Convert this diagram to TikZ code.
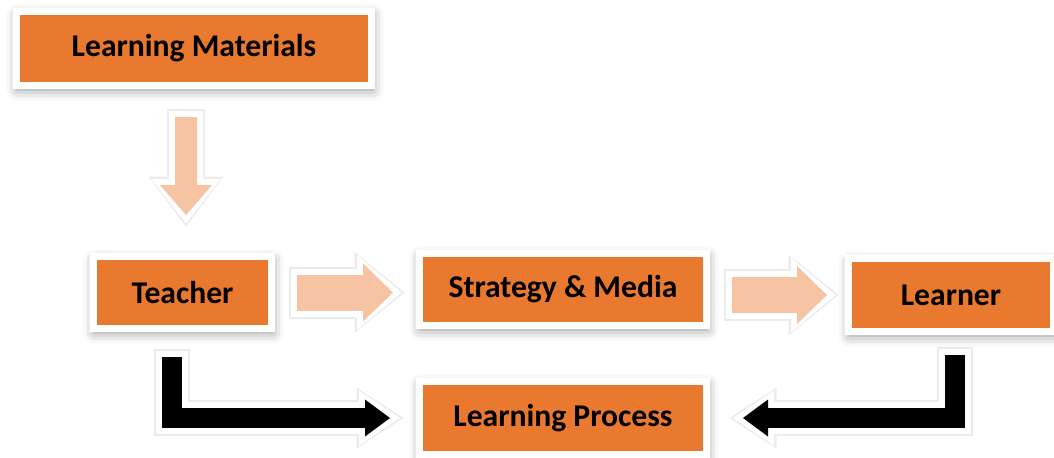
\documentclass[tikz,border=0pt]{standalone}
\usepackage{fontspec}
\setmainfont{Carlito}
\usetikzlibrary{positioning}
\usetikzlibrary{arrows.meta, shadows.blur}
\definecolor{boxorange}{RGB}{232,121,47}
\definecolor{arrowpeach}{RGB}{246,196,163}

\begin{document}
\begin{tikzpicture}[ orangebox/.style={rectangle, draw=white, fill=boxorange,
      line width=0.14cm, outer sep=0pt, minimum height=1.44cm,
      font=\fontsize{18}{21}\selectfont\bfseries,
      path picture={\draw[boxorange!80!black, line width=0.07cm]
        (path picture bounding box.south west) rectangle (path picture bounding box.north east);
        \draw[boxorange!60!white, line width=0.1cm]
        (path picture bounding box.north west) -- (path picture bounding box.north east);},
      blur shadow={shadow xshift=0.02cm, shadow yshift=-0.08cm,
        shadow blur radius=0.22cm, shadow opacity=45}},
    peacharrow/.style={draw=arrowpeach, line width=0.72cm,
      -{Triangle[length=0.6cm, width=1.16cm, line width=0pt]},
      preaction={draw=black!8, line width=1.04cm, shorten <=-0.16cm, shorten >=-0.23cm,
        -{Triangle[length=1.0cm, width=1.62cm, line width=0pt]}},
      preaction={draw=white, line width=0.96cm, shorten <=-0.12cm, shorten >=-0.17cm,
        -{Triangle[length=0.89cm, width=1.5cm, line width=0pt]}}},
    blackarrow/.style={draw=black, line width=0.4cm, line join=miter,
      -{Triangle[length=0.5cm, width=0.74cm, line width=0pt]},
      preaction={draw=black!8, line width=0.72cm, shorten <=-0.16cm, shorten >=-0.27cm,
        -{Triangle[length=0.94cm, width=1.22cm, line width=0pt]}},
      preaction={draw=white, line width=0.64cm, shorten <=-0.12cm, shorten >=-0.2cm,
        -{Triangle[length=0.82cm, width=1.1cm, line width=0pt]}}}]
    \useasboundingbox (0,0) rectangle (21.08,-9.14);
    \node[orangebox, minimum width=7.1cm, minimum height=1.48cm] (materials) at (3.88,-0.97) {Learning Materials};
    \node[orangebox, minimum width=3.56cm] (teacher) [below=3.42cm of materials, xshift=-0.23cm] {Teacher};
    \node[orangebox, minimum width=5.74cm] (strategy) [right=2.96cm of teacher, yshift=0.06cm] {Strategy \& Media};
    \node[orangebox, minimum width=4.1cm, minimum height=1.46cm] (learner) [right=2.84cm of strategy, yshift=-0.11cm] {Learner};
    \node[orangebox, minimum width=5.74cm, minimum height=1.46cm] (process) [below=1.12cm of strategy] {Learning Process};
    \draw[draw=arrowpeach, line width=0.44cm, -{Triangle[length=0.6cm, width=1.04cm, line width=0pt]},
      preaction={draw=black!8, line width=0.76cm, shorten <=-0.16cm, shorten >=-0.23cm,
        -{Triangle[length=1.0cm, width=1.5cm, line width=0pt]}},
      preaction={draw=white, line width=0.68cm, shorten <=-0.12cm, shorten >=-0.17cm,
        -{Triangle[length=0.89cm, width=1.38cm, line width=0pt]}}]
      ([xshift=-0.16cm, yshift=-0.63cm]materials.south) -- ([xshift=0.07cm, yshift=0.83cm]teacher.north);
    \draw[peacharrow] ([xshift=0.51cm]teacher.east) -- ([xshift=-0.53cm]strategy.west |- teacher.east);
    \draw[peacharrow] ([xshift=0.51cm]strategy.east |- learner.west) -- ([xshift=-0.43cm]learner.west);
    \draw[blackarrow] ([xshift=-0.22cm, yshift=-0.57cm]teacher.south) |- ([xshift=-0.59cm]process.west);
    \draw[blackarrow] ([xshift=0.08cm, yshift=-0.47cm]learner.south) |- ([xshift=0.73cm]process.east);
  \end{tikzpicture}
\end{document}
